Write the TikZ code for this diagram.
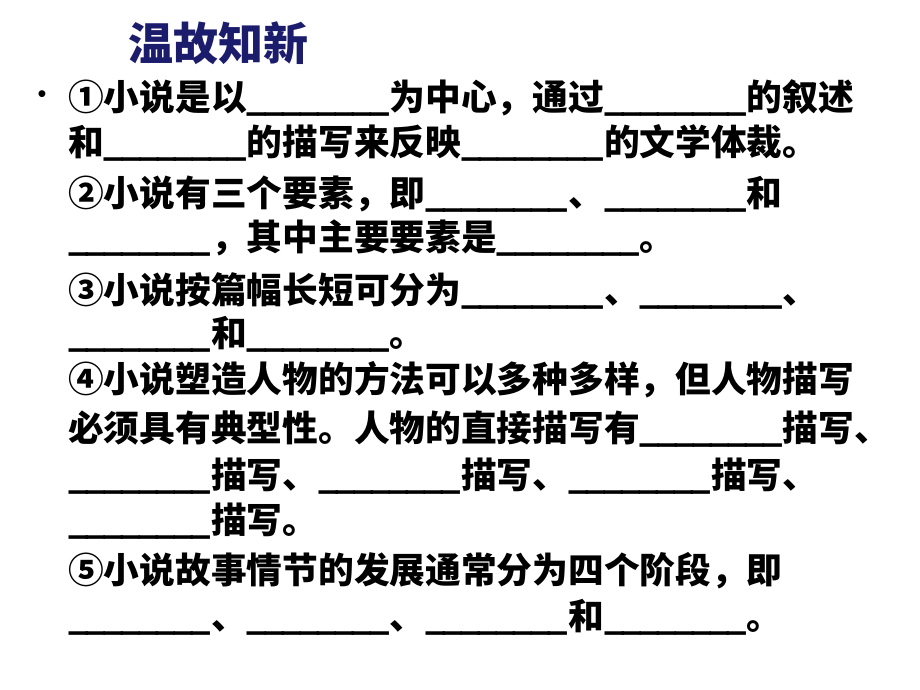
\documentclass[tikz,border=0pt]{standalone}
\usepackage{fontspec}
\newfontfamily\cjk{Noto Sans CJK SC}
\newfontfamily\bulletfont{Liberation Sans}
\definecolor{titleblue}{RGB}{28, 28, 108}
\usetikzlibrary{positioning}
\newcommand{\fillin}{\hbox to 4em{\_\hss\_\hss\_\hss\_\hss\_\hss\_\hss\_\hss\_}}

\begin{document}
\begin{tikzpicture}[x=0.025cm, y=-0.025cm,
  line/.style={anchor=base west, inner sep=0pt, font=\cjk\bfseries\fontsize{25.4}{30}\selectfont}]
  \useasboundingbox (0,0) rectangle (920,690);

  % Title
  \node[anchor=base west, inner sep=0pt, text=titleblue, font=\cjk\bfseries\fontsize{32}{38}\selectfont] (title) at (128,61) {温故知新};

  % Bullet
  \node[inner sep=0pt, font=\bulletfont\fontsize{18}{20}\selectfont] (bullet) at (42,97) {•};

  % Item 1
  \node[line] (q1a) at (68,111) {①小说是以\fillin 为中心，通过\fillin 的叙述};
  \node[line] (q1b) at (68,155) {和\fillin 的描写来反映\fillin 的文学体裁。};

  % Item 2
  \node[line] (q2a) at (68,206) {②小说有三个要素，即\fillin 、\fillin 和};
  \node[line] (q2b) at (68,250) {\fillin ，其中主要要素是\fillin 。};

  % Item 3
  \node[line] (q3a) at (68,303) {③小说按篇幅长短可分为\fillin 、\fillin 、};
  \node[line] (q3b) at (68,346) {\fillin 和\fillin 。};

  % Item 4
  \node[line] (q4a) at (68,392) {④小说塑造人物的方法可以多种多样，但人物描写};
  \node[line] (q4b) at (68,441) {必须具有典型性。人物的直接描写有\fillin 描写、};
  \node[line] (q4c) at (68,488) {\fillin 描写、\fillin 描写、\fillin 描写、};
  \node[line] (q4d) at (68,533) {\fillin 描写。};

  % Item 5
  \node[line] (q5a) at (68,583) {⑤小说故事情节的发展通常分为四个阶段，即};
  \node[line] (q5b) at (68,629) {\fillin 、\fillin 、\fillin 和\fillin 。};
\end{tikzpicture}
\end{document}
